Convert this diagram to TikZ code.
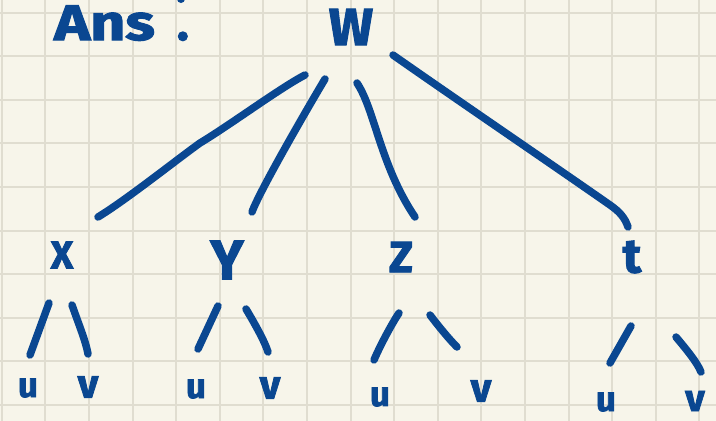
\documentclass[tikz,border=0pt]{standalone}
\usepackage{fontspec}
\setmainfont{Fira Sans}
\usepackage{graphicx}
\definecolor{ink}{HTML}{0A4791}
\definecolor{paper}{HTML}{F7F5EA}
\definecolor{gridc}{HTML}{E0DDD0}
\begin{document}
\begin{tikzpicture}[x=1pt,y=-1pt,
  pen/.style={draw=ink, line width=7.5pt, line cap=round, line join=round},
  lbl/.style={text=ink, inner sep=0pt},
  sz/.style={font=\bfseries\fontsize{#1}{#1}\selectfont\addfontfeature{FakeBold=2}},
  gridline/.style={draw=gridc, line width=2pt}]
\useasboundingbox (0,0) rectangle (716,421);
\fill[paper] (0,0) rectangle (716,421);
\foreach \k in {0,...,16} \draw[gridline] ({1.7+43.6*\k},0) -- ({1.7+43.6*\k},421);
\foreach \k in {0,...,9} \draw[gridline] (0,{12.7+43.57*\k}) -- (716,{12.7+43.57*\k});

% title
\node[lbl, sz=50pt, anchor=base west] (ans) at (54,40) {\scalebox{1.22}[1]{Ans}\kern22pt.};
\fill[ink] (181,-1) circle (4);

% tree nodes
\node[lbl, sz=52pt] (W) at (351,27) {W};
\node[lbl, sz=39pt] (X) at (62,255) {X};
\node[lbl, sz=56pt] (Y) at (227,260) {Y};
\node[lbl, sz=44pt] (Z) at (401,257) {Z};
\node[lbl, sz=48pt] (T) at (632,257) {t};

\node[lbl, sz=35pt] (Xu) at (28,388) {u};
\node[lbl, sz=40pt] (Xv) at (88,387) {v};
\node[lbl, sz=35pt] (Yu) at (196,389) {u};
\node[lbl, sz=40pt] (Yv) at (270,388) {v};
\node[lbl, sz=35pt] (Zu) at (380,397) {u};
\node[lbl, sz=40pt] (Zv) at (481,391) {v};
\node[lbl, sz=35pt] (Tu) at (606,402) {u};
\node[lbl, sz=38pt] (Tv) at (695,401) {v};

% connector end points
\coordinate (wx) at (305,75);  \coordinate (xw) at (98,217);
\coordinate (wy) at (325,79);  \coordinate (yw) at (252,212);
\coordinate (wz) at (357,83);  \coordinate (zw) at (415,217);
\coordinate (wt) at (393,55);  \coordinate (tw) at (628,227);

\coordinate (xu1) at (49,303);  \coordinate (xu2) at (30,355);
\coordinate (xv1) at (72,305);  \coordinate (xv2) at (88,354);
\coordinate (yu1) at (218,306); \coordinate (yu2) at (198,349);
\coordinate (yv1) at (246,309); \coordinate (yv2) at (268,352);
\coordinate (zu1) at (399,313); \coordinate (zu2) at (374,360);
\coordinate (zv1) at (430,315); \coordinate (zv2) at (457,347);
\coordinate (tu1) at (631,326); \coordinate (tu2) at (610,363);
\coordinate (tv1) at (676,337); \coordinate (tv2) at (701,372);

% connectors from W
\draw[pen] (wx) .. controls +(-25,13) and +(30,-18) .. (200,143)
               .. controls +(-25,18) and +(28,-17) .. (xw);
\draw[pen] (wy) .. controls +(-15,25) and +(8,-22) .. (yw);
\draw[pen] (wz) .. controls (375,110) and (380,165) .. (zw);
\draw[pen] (wt) .. controls (450,95) and (560,170) .. (610,205)
               .. controls (620,212) and (625,218) .. (tw);

% connectors to leaves
\draw[pen] (xu1) -- (xu2);
\draw[pen] (xv1) .. controls +(7,20) and +(-2,-12) .. (xv2);
\draw[pen] (yu1) -- (yu2);
\draw[pen] (yv1) .. controls +(9,15) and +(-3,-10) .. (yv2);
\draw[pen] (zu1) .. controls +(-8,12) and +(5,-12) .. (zu2);
\draw[pen] (zv1) .. controls +(10,13) and +(-8,-8) .. (zv2);
\draw[pen] (tu1) -- (tu2);
\draw[pen] (tv1) .. controls +(10,12) and +(-4,-10) .. (tv2);
\end{tikzpicture}
\end{document}
